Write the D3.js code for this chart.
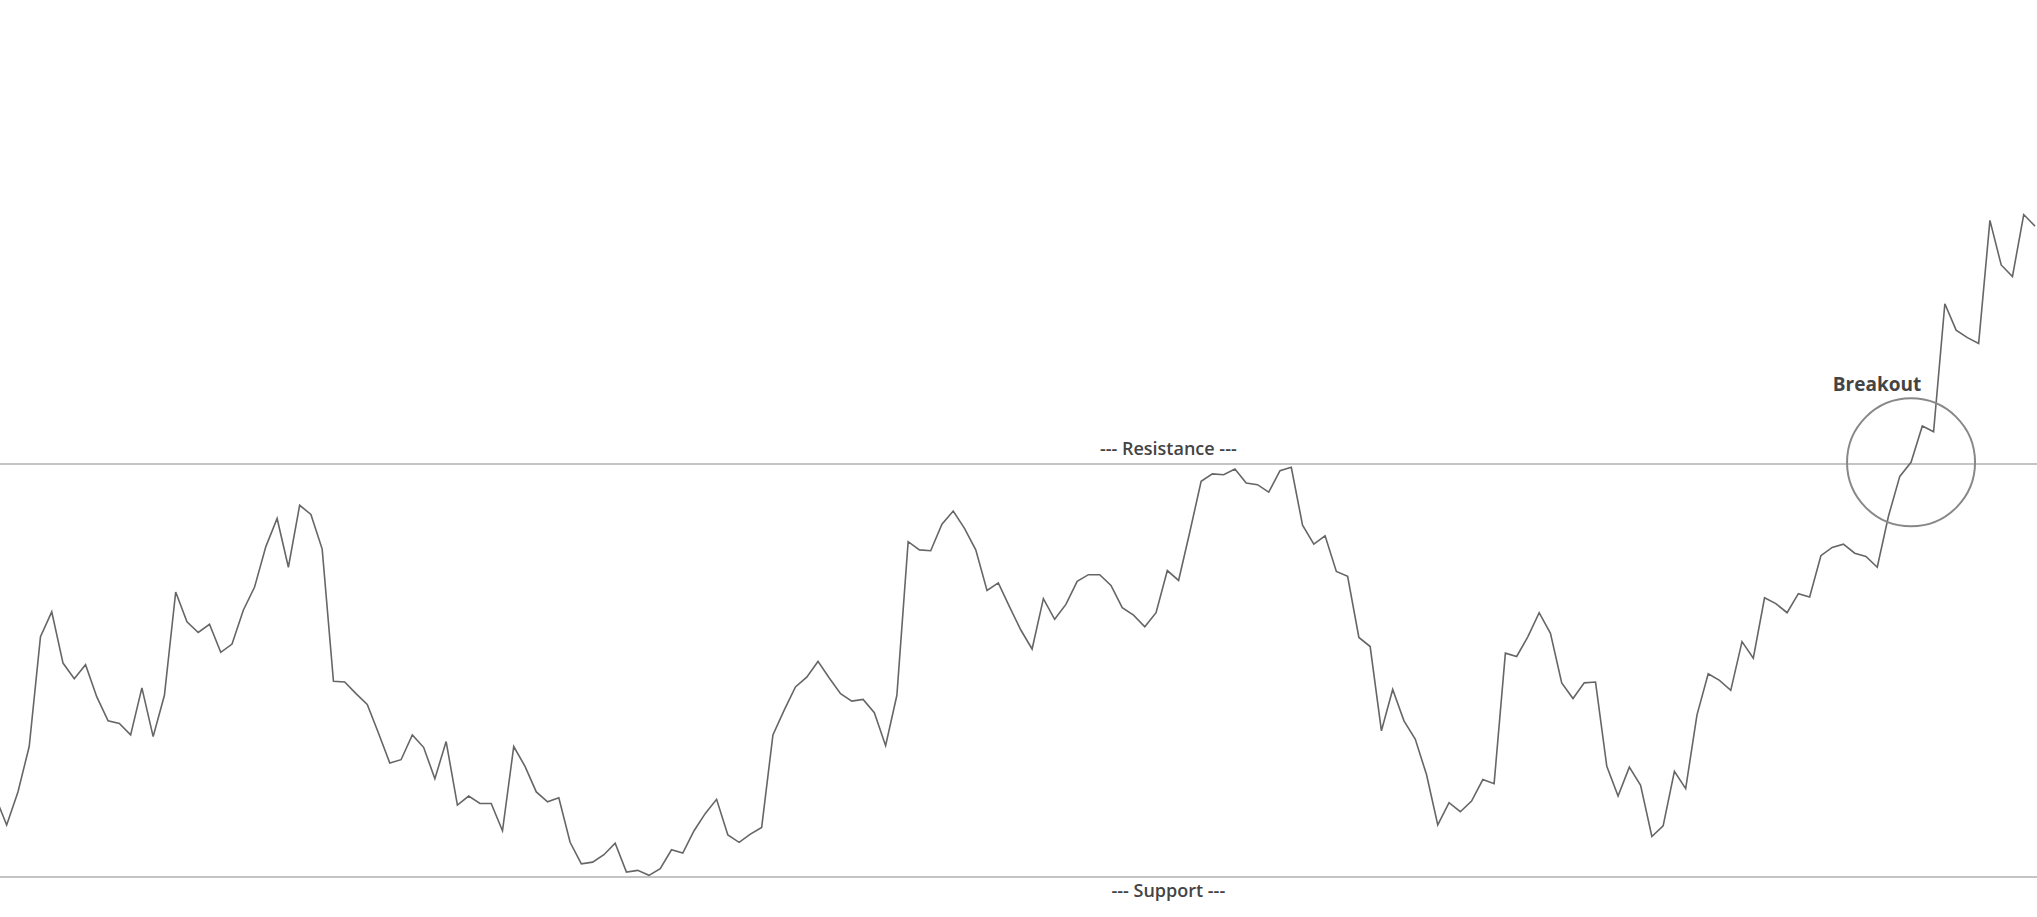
<!DOCTYPE html>
<html>
<head>
<meta charset="utf-8">
<script src="https://cdn.jsdelivr.net/npm/d3@7"></script>
<style>
  html, body { margin: 0; padding: 0; background: #fff; overflow: hidden; }
  svg { display: block; }
</style>
</head>
<body>
<svg id="chart" width="2037" height="917"></svg>
<script>
// ---- data ----
const prices = [
  109.7, 106.3, 110.3, 115.8, 129.1, 132.1, 125.9, 124.0, 125.7, 121.8,
  118.9, 118.6, 117.2, 122.9, 117.0, 122.0, 134.5, 130.9, 129.6, 130.6,
  127.2, 128.2, 132.3, 135.1, 140.0, 143.4, 137.5, 145.0, 143.9, 139.7,
  123.7, 123.6, 122.2, 120.9, 117.4, 113.8, 114.2, 117.2, 115.7, 111.9,
  116.4, 108.7, 109.8, 108.9, 108.9, 105.6, 115.8, 113.4, 110.3, 109.1,
  109.6, 104.2, 101.6, 101.8, 102.7, 104.1, 100.6, 100.8, 100.2, 101.0,
  103.3, 102.9, 105.6, 107.7, 109.4, 105.1, 104.2, 105.2, 106.0, 117.2,
  120.2, 123.0, 124.2, 126.1, 124.1, 122.2, 121.3, 121.5, 119.9, 115.9,
  122.0, 140.6, 139.6, 139.5, 142.7, 144.3, 142.2, 139.6, 134.7, 135.6,
  132.7, 129.9, 127.6, 133.7, 131.2, 133.0, 135.8, 136.6, 136.6, 135.3,
  132.6, 131.7, 130.3, 132.0, 137.1, 135.9, 141.8, 147.9, 148.8, 148.7,
  149.4, 147.7, 147.5, 146.6, 149.2, 149.6, 142.6, 140.3, 141.3, 137.0,
  136.4, 129.0, 127.9, 117.7, 122.7, 118.9, 116.7, 112.4, 106.3, 109.0,
  107.9, 109.2, 111.8, 111.3, 127.1, 126.7, 129.1, 132.0, 129.5, 123.5,
  121.6, 123.5, 123.6, 113.4, 109.8, 113.3, 111.1, 104.9, 106.2, 112.8,
  110.7, 119.6, 124.6, 123.8, 122.6, 128.5, 126.5, 133.8, 133.1, 132.0,
  134.3, 133.9, 138.9, 139.9, 140.3, 139.2, 138.8, 137.5, 143.7, 148.5,
  150.2, 154.6, 153.9, 169.4, 166.2, 165.3, 164.6, 179.5, 174.1, 172.7,
  180.2, 178.8
];
const supportLevel = 100;
const resistanceLevel = 150;
const labels = {
  resistance: "--- Resistance ---",
  support: "--- Support ---",
  breakout: "Breakout"
};
const breakoutIndex = 170;
const levelLabelIndex = 104;

// ---- chart ----
const W = 2037, H = 917;
const svg = d3.select("#chart");

const x = d3.scaleLinear()
  .domain([0, prices.length - 1])
  .range([-4.6, 2035]);

const y = d3.scaleLinear()
  .domain([supportLevel, resistanceLevel])
  .range([877, 464]);

const font = "'Open Sans', 'DejaVu Sans', sans-serif";

// reference lines
[resistanceLevel, supportLevel].forEach(lv => {
  svg.append("line")
    .attr("x1", 0).attr("x2", W)
    .attr("y1", y(lv)).attr("y2", y(lv))
    .attr("stroke", "#8a8a8a")
    .attr("stroke-width", 1.2);
});

// price line
const line = d3.line()
  .x((d, i) => x(i))
  .y(d => y(d));

svg.append("path")
  .datum(prices)
  .attr("d", line)
  .attr("fill", "none")
  .attr("stroke", "#666")
  .attr("stroke-width", 1.6)
  .attr("stroke-linejoin", "miter");

// level labels
svg.append("text")
  .attr("x", x(levelLabelIndex) + 1)
  .attr("y", y(resistanceLevel) - 9)
  .attr("text-anchor", "middle")
  .attr("font-family", font)
  .attr("font-weight", 600)
  .attr("font-size", 18)
  .attr("fill", "#444")
  .text(labels.resistance);

svg.append("text")
  .attr("x", x(levelLabelIndex) + 1)
  .attr("y", y(supportLevel) + 20)
  .attr("text-anchor", "middle")
  .attr("font-family", font)
  .attr("font-weight", 600)
  .attr("font-size", 18)
  .attr("fill", "#444")
  .text(labels.support);

// breakout annotation
const cx = x(breakoutIndex), cy = y(prices[breakoutIndex]);
svg.append("circle")
  .attr("cx", cx)
  .attr("cy", cy)
  .attr("r", 64)
  .attr("fill", "none")
  .attr("stroke", "#888")
  .attr("stroke-width", 2);

svg.append("text")
  .attr("x", cx - 34)
  .attr("y", cy - 71)
  .attr("text-anchor", "middle")
  .attr("font-family", font)
  .attr("font-weight", 700)
  .attr("font-size", 19)
  .attr("fill", "#444")
  .text(labels.breakout);
</script>
</body>
</html>
